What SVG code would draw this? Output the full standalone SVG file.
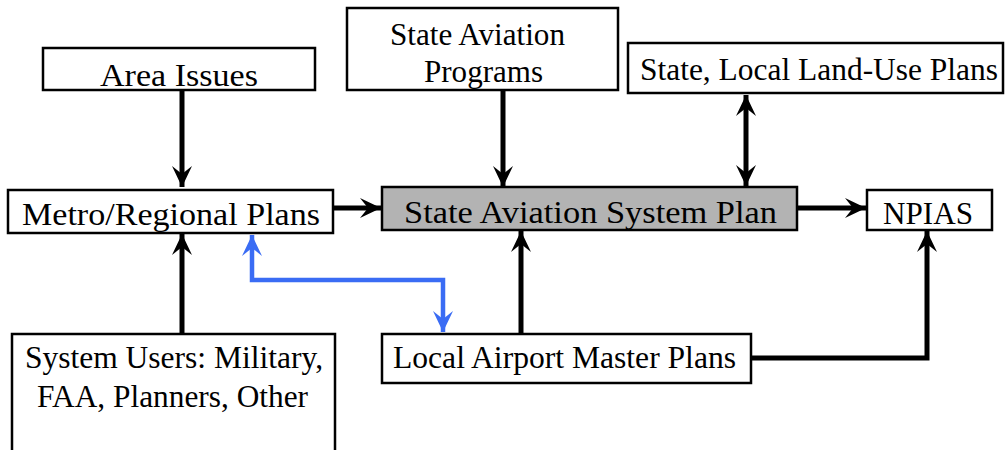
<svg xmlns="http://www.w3.org/2000/svg" width="1005" height="450" viewBox="0 0 1005 450">
  <style>
    .box { fill: #ffffff; stroke: #000000; stroke-width: 2.5; }
    .main { fill: #b3b3b3; stroke: #000000; stroke-width: 2.5; }
    text { font-family: "Liberation Serif", Tinos, "Times New Roman", Times, "Nimbus Roman", "Nimbus Roman No9 L", FreeSerif, "Noto Serif", "DejaVu Serif", serif; font-size: 32px; fill: #000000; }
    .conn { fill: none; stroke: #000000; stroke-width: 5; }
    .blue { fill: none; stroke: #3a6cf4; stroke-width: 4.5; }
  </style>
  <defs>
    <marker id="arrow" markerUnits="userSpaceOnUse" markerWidth="24" markerHeight="22" refX="22" refY="11" orient="auto-start-reverse" viewBox="0 0 24 22">
      <path d="M22,11 L1,1 L9,11 L1,21 Z" fill="#000000"/>
    </marker>
    <marker id="arrowBlue" markerUnits="userSpaceOnUse" markerWidth="24" markerHeight="22" refX="22" refY="11" orient="auto-start-reverse" viewBox="0 0 24 22">
      <path d="M22,11 L1,1 L9,11 L1,21 Z" fill="#3a6cf4"/>
    </marker>
  </defs>

  <rect width="1005" height="450" fill="#ffffff"/>

  <!-- connectors -->
  <g id="connectors">
    <path class="conn" d="M182,90 V187" marker-end="url(#arrow)"/>
    <path class="conn" d="M503,90 V187" marker-end="url(#arrow)"/>
    <path class="conn" d="M746,95 V186" marker-start="url(#arrow)" marker-end="url(#arrow)"/>
    <path class="conn" d="M333,208 H381" marker-end="url(#arrow)"/>
    <path class="conn" d="M797,208 H866" marker-end="url(#arrow)"/>
    <path class="conn" d="M182,334 V234" marker-end="url(#arrow)"/>
    <path class="conn" d="M521,334 V231" marker-end="url(#arrow)"/>
    <path class="conn" d="M751,358 H927 V231" marker-end="url(#arrow)"/>
    <path class="blue" d="M252,235 V280 H443 V332" marker-start="url(#arrowBlue)" marker-end="url(#arrowBlue)"/>
  </g>

  <g id="area-issues">
    <rect class="box" x="43" y="48" width="272" height="42"/>
    <text x="100" y="86" textLength="158" lengthAdjust="spacingAndGlyphs">Area Issues</text>
  </g>

  <g id="state-aviation-programs">
    <rect class="box" x="347" y="8" width="271" height="82"/>
    <text x="390" y="45" textLength="175" lengthAdjust="spacingAndGlyphs">State Aviation</text>
    <text x="424" y="82" textLength="119" lengthAdjust="spacingAndGlyphs">Programs</text>
  </g>

  <g id="land-use-plans">
    <rect class="box" x="628" y="43" width="375" height="50"/>
    <text x="640" y="80" textLength="358" lengthAdjust="spacingAndGlyphs">State, Local Land-Use Plans</text>
  </g>

  <g id="metro-regional">
    <rect class="box" x="8" y="190" width="325" height="43"/>
    <text x="22" y="225" textLength="298" lengthAdjust="spacingAndGlyphs">Metro/Regional Plans</text>
  </g>

  <g id="state-system-plan">
    <rect class="main" x="382" y="187" width="415" height="43"/>
    <text x="404" y="223" textLength="373" lengthAdjust="spacingAndGlyphs">State Aviation  System Plan</text>
  </g>

  <g id="npias">
    <rect class="box" x="867" y="190" width="125" height="40"/>
    <text x="883" y="224" textLength="90" lengthAdjust="spacingAndGlyphs">NPIAS</text>
  </g>

  <g id="system-users">
    <rect class="box" x="12" y="334" width="323" height="130"/>
    <text x="25" y="368" textLength="298" lengthAdjust="spacingAndGlyphs">System Users: Military,</text>
    <text x="37" y="407" textLength="271" lengthAdjust="spacingAndGlyphs">FAA, Planners, Other</text>
  </g>

  <g id="local-master-plans">
    <rect class="box" x="382" y="334" width="369" height="49"/>
    <text x="393" y="368" textLength="343" lengthAdjust="spacingAndGlyphs">Local Airport Master Plans</text>
  </g>
</svg>
